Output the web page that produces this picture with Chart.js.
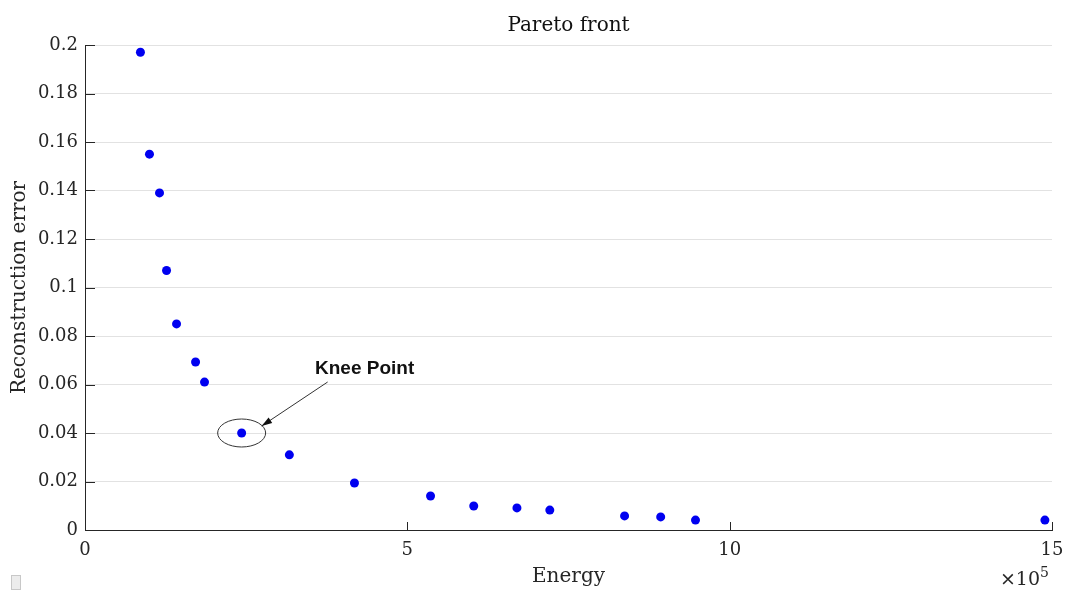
<!DOCTYPE html>
<html>
<head>
<meta charset="utf-8">
<script src="https://cdn.jsdelivr.net/npm/chart.js@4/dist/chart.umd.min.js"></script>
<style>
  html, body { margin: 0; padding: 0; background: #fff; }
  canvas { display: block; }
</style>
</head>
<body>
<canvas id="chart" width="1067" height="590"></canvas>
<script>
// Pareto front - energia x erro de reconstrução

// Dados (energia em unidades de 1e5)
const energy = [0.86, 1.0, 1.156, 1.265, 1.42, 1.715, 1.854, 2.43, 3.17, 4.18, 5.36, 6.03, 6.70, 7.21, 8.37, 8.93, 9.47, 14.89];
const reconError = [0.197, 0.155, 0.139, 0.107, 0.085, 0.0693, 0.061, 0.040, 0.031, 0.0194, 0.014, 0.0099, 0.0091, 0.0082, 0.0058, 0.0054, 0.0041, 0.0041];
const xTicks = [0, 5, 10, 15];
const yTicks = [0, 0.02, 0.04, 0.06, 0.08, 0.1, 0.12, 0.14, 0.16, 0.18, 0.2];
const kneeIndex = 7;

const serif = "'DejaVu Serif', serif";
const axisColor = '#262626';

// Marcas de escala internas, anotação do joelho e expoente
const extrasPlugin = {
    id: 'extras',
    afterDraw(chart) {
        const ctx = chart.ctx;
        const xs = chart.scales.x;
        const ys = chart.scales.y;
        const area = chart.chartArea;

        ctx.save();
        ctx.strokeStyle = axisColor;
        ctx.lineWidth = 1;
        // ticks do eixo y (para dentro)
        yTicks.forEach(v => {
            const py = Math.round(ys.getPixelForValue(v)) + 0.5;
            ctx.beginPath();
            ctx.moveTo(area.left, py);
            ctx.lineTo(area.left + 10, py);
            ctx.stroke();
        });
        // ticks do eixo x (para dentro)
        xTicks.forEach(v => {
            const px = Math.round(xs.getPixelForValue(v)) + 0.5;
            ctx.beginPath();
            ctx.moveTo(px, area.bottom);
            ctx.lineTo(px, area.bottom - 8);
            ctx.stroke();
        });

        // Knee point
        const kx = xs.getPixelForValue(energy[kneeIndex]);
        const ky = ys.getPixelForValue(reconError[kneeIndex]);
        ctx.strokeStyle = '#333';
        ctx.beginPath();
        ctx.ellipse(kx, ky, 24, 14, 0, 0, Math.PI * 2);
        ctx.stroke();

        const x1 = kx + 86, y1 = ky - 51;
        const x2 = kx + 20, y2 = ky - 7;
        ctx.beginPath();
        ctx.moveTo(x1, y1);
        ctx.lineTo(x2, y2);
        ctx.stroke();
        const ang = Math.atan2(y2 - y1, x2 - x1);
        ctx.fillStyle = '#111';
        ctx.beginPath();
        ctx.moveTo(x2, y2);
        ctx.lineTo(x2 - 11 * Math.cos(ang - 0.3), y2 - 11 * Math.sin(ang - 0.3));
        ctx.lineTo(x2 - 11 * Math.cos(ang + 0.3), y2 - 11 * Math.sin(ang + 0.3));
        ctx.closePath();
        ctx.fill();

        ctx.fillStyle = '#111';
        ctx.font = "bold 19px 'Liberation Sans', Arial, sans-serif";
        ctx.textAlign = 'center';
        ctx.textBaseline = 'middle';
        ctx.fillText('Knee Point', kx + 123, ky - 64);

        // x10^5
        ctx.fillStyle = axisColor;
        ctx.font = '19px ' + serif;
        ctx.textAlign = 'right';
        ctx.textBaseline = 'alphabetic';
        ctx.fillText('\u00d710', area.right - 12, 585);
        ctx.font = '14px ' + serif;
        ctx.textAlign = 'left';
        ctx.fillText('5', area.right - 12, 577);

        // pequeno quadrado no canto
        ctx.fillStyle = '#ececec';
        ctx.strokeStyle = '#c8c8c8';
        ctx.fillRect(11.5, 575.5, 9, 14);
        ctx.strokeRect(11.5, 575.5, 9, 14);
        ctx.restore();
    }
};

const chart = new Chart(document.getElementById('chart'), {
    type: 'scatter',
    data: {
        datasets: [{
            data: energy.map((e, i) => ({ x: e, y: reconError[i] })),
            backgroundColor: 'rgb(0, 0, 240)',
            borderWidth: 0,
            pointRadius: 4.5
        }]
    },
    options: {
        responsive: false,
        devicePixelRatio: 1,
        animation: false,
        layout: { padding: { left: 0, right: 15, top: 0, bottom: 0 } },
        plugins: {
            legend: { display: false },
            tooltip: { enabled: false },
            title: {
                display: true,
                text: 'Pareto front',
                fullSize: false,
                color: '#111',
                font: { family: serif, size: 20, weight: 'normal', lineHeight: 1.2 },
                padding: { top: 14, bottom: 7 }
            }
        },
        scales: {
            x: {
                type: 'linear',
                min: 0,
                max: 15,
                afterFit: s => { s.height = 60; s.paddingLeft = 0; s.paddingRight = 0; },
                afterBuildTicks: s => { s.ticks = xTicks.map(v => ({ value: v })); },
                ticks: {
                    color: axisColor,
                    font: { family: serif, size: 18 },
                    padding: 10,
                    maxRotation: 0
                },
                grid: { display: false, drawTicks: false },
                border: { display: true, color: axisColor, width: 1 },
                title: {
                    display: true,
                    text: 'Energy',
                    color: axisColor,
                    font: { family: serif, size: 20, lineHeight: 1.2 },
                    padding: { top: 0, bottom: 1 }
                }
            },
            y: {
                type: 'linear',
                min: 0,
                max: 0.2,
                afterFit: s => { s.width = 85; s.paddingTop = 0; s.paddingBottom = 0; },
                afterBuildTicks: s => { s.ticks = yTicks.map(v => ({ value: v })); },
                ticks: {
                    color: axisColor,
                    font: { family: serif, size: 18 },
                    padding: 7,
                    callback: v => String(+v.toFixed(2))
                },
                grid: { color: '#e2e2e2', drawTicks: false },
                border: { display: true, color: axisColor, width: 1 },
                title: {
                    display: true,
                    text: 'Reconstruction error',
                    color: axisColor,
                    font: { family: serif, size: 20, lineHeight: 1.2 },
                    padding: { top: 8, bottom: 0 }
                }
            }
        }
    },
    plugins: [extrasPlugin]
});
</script>
</body>
</html>
